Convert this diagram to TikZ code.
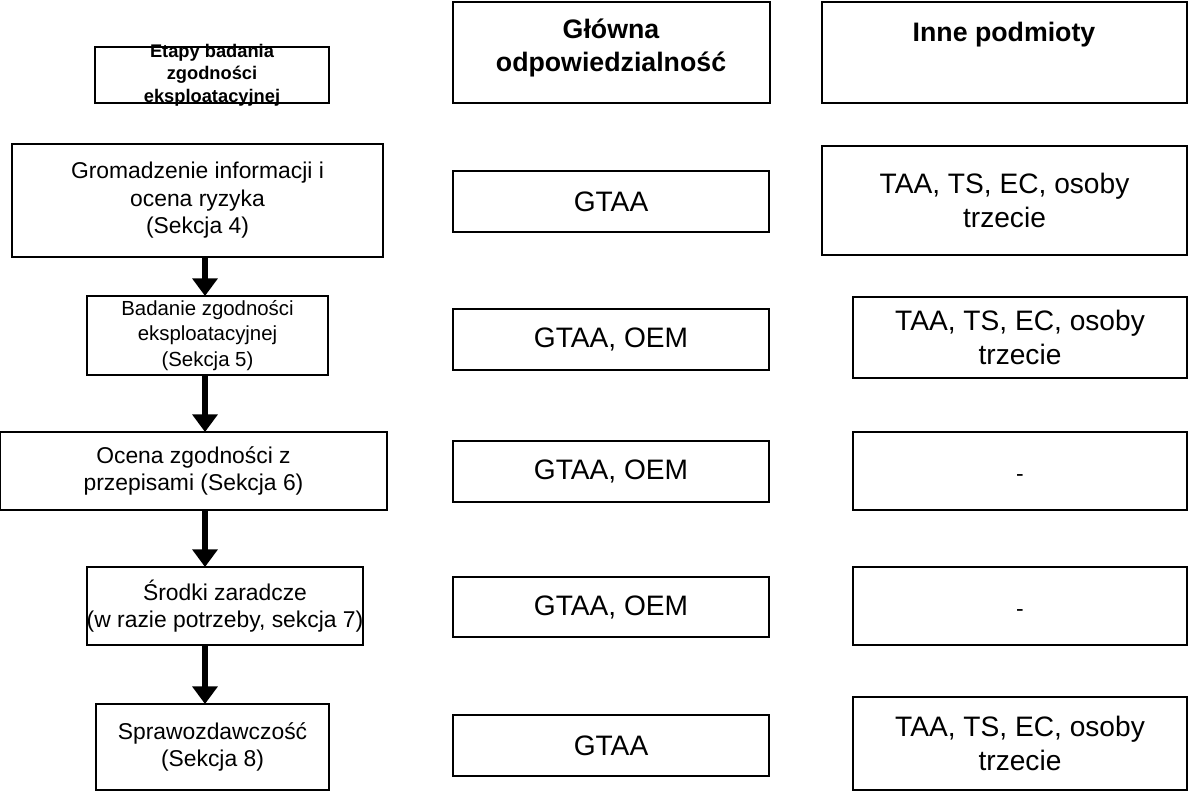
\documentclass[tikz,border=0pt]{standalone}
\usepackage{fontspec}
\setmainfont{Liberation Sans}
\usetikzlibrary{arrows.meta}
\begin{document}
\begin{tikzpicture}[x=0.01cm,y=-0.01cm,
  box/.style={draw,line width=0.6pt,align=center,inner sep=0pt},
  small/.style={font=\fontsize{6.5}{7.8}\selectfont},
  big/.style={font=\fontsize{8}{9.6}\selectfont},
  hd/.style={font=\bfseries\fontsize{5.2}{6.4}\selectfont},
  hdb/.style={font=\bfseries\fontsize{7.6}{9.5}\selectfont},
  arr/.style={-{Triangle[length=5pt,width=7pt]},line width=1.6pt}]
\useasboundingbox (0,0) rectangle (1200,800);
\newcommand{\bx}[6]{\node[box,#6,minimum width=(#3-#1)*0.01cm,minimum height=(#4-#2)*0.01cm] (#5) at ({(#1+#3)/2},{(#2+#4)/2}) {};}
% headers
\bx{95}{47}{329}{103}{h1}{}
\node[hd,align=center] at (h1) {Etapy badania\\zgodności\\eksploatacyjnej};
\bx{453}{2}{770}{103}{h2}{}
\node[hdb,align=center] at (611,48) {Główna\\odpowiedzialność};
\bx{822}{2}{1187}{103}{h3}{}
\node[hdb] at (1004,35) {Inne podmioty};
% left column
\bx{12}{144}{383}{257}{l1}{}
\node[small,align=center] at (l1) {Gromadzenie informacji i\\ocena ryzyka\\(Sekcja 4)};
\bx{87}{296}{328}{375}{l2}{}
\node[align=center,font=\fontsize{5.8}{7.2}\selectfont] at (l2) {Badanie zgodności\\eksploatacyjnej\\(Sekcja 5)};
\bx{0}{432}{387}{510}{l3}{}
\node[small,align=center] at (l3) {Ocena zgodności z\\przepisami (Sekcja 6)};
\bx{87}{567}{363}{645}{l4}{}
\node[small,align=center] at (l4) {Środki zaradcze\\(w razie potrzeby, sekcja 7)};
\bx{96}{704}{329}{790}{l5}{}
\node[small,align=center] at (l5) {Sprawozdawczość\\(Sekcja 8)};
% middle
\bx{453}{171}{769}{232}{m1}{}  \node[big] at (m1) {GTAA};
\bx{453}{309}{769}{370}{m2}{}  \node[big] at (m2) {GTAA, OEM};
\bx{453}{441}{769}{502}{m3}{}  \node[big] at (m3) {GTAA, OEM};
\bx{453}{577}{769}{637}{m4}{}  \node[big] at (m4) {GTAA, OEM};
\bx{453}{715}{769}{776}{m5}{}  \node[big] at (m5) {GTAA};
% right
\bx{822}{146}{1187}{255}{r1}{}
\node[big,align=center] at (r1) {TAA, TS, EC, osoby\\trzecie};
\bx{853}{297}{1187}{378}{r2}{}
\node[big,align=center] at (r2) {TAA, TS, EC, osoby\\trzecie};
\bx{853}{432}{1187}{510}{r3}{}
\node[small] at (1020,478) {-};
\bx{853}{567}{1187}{645}{r4}{}
\node[small] at (1020,613) {-};
\bx{853}{697}{1187}{790}{r5}{}
\node[big,align=center] at (r5) {TAA, TS, EC, osoby\\trzecie};
% arrows
\draw[arr] (205,257) -- (205,296);
\draw[arr] (205,375) -- (205,432);
\draw[arr] (205,510) -- (205,567);
\draw[arr] (205,645) -- (205,704);
\end{tikzpicture}
\end{document}
